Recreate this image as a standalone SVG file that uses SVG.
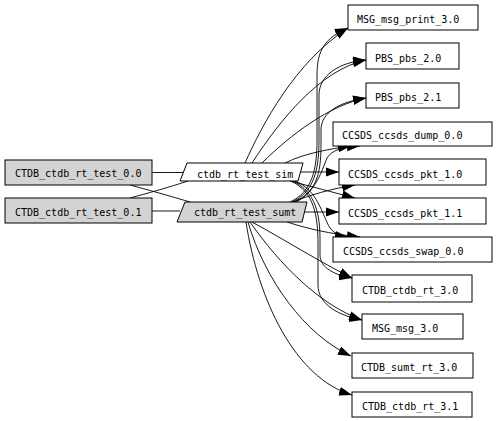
<svg xmlns="http://www.w3.org/2000/svg" width="498" height="421" viewBox="0 0 498 421">
<defs>
<marker id="ah" markerWidth="13" markerHeight="10" refX="13" refY="5" orient="auto" markerUnits="userSpaceOnUse">
<path d="M0,0.5 L13,5 L0,9.5 z" fill="#000"/>
</marker>
<style>
.box{fill:#fff;stroke:#000;stroke-width:1}
.grey{fill:#d3d3d3;stroke:#000;stroke-width:1}
.t{font-family:"DejaVu Sans Mono","Liberation Mono",monospace;font-size:10px;fill:#000}
.e{fill:none;stroke:#000;stroke-width:0.9}
.a{marker-end:url(#ah)}
</style>
</defs>
<rect width="498" height="421" fill="#fff"/>
<g id="connectors">
<path class="e" d="M152,172.5 L184,172.5"/>
<path class="e" d="M152,211 L180,211"/>
<path class="e" d="M130,185 C145,189 170,196 190,202"/>
<path class="e" d="M130,198 C145,194 170,187 188,181"/>
<path class="e a" d="M245,163 C262,125 295,62 348,28"/>
<path class="e a" d="M252,163 C280,120 320,70 366,60"/>
<path class="e a" d="M262,163 C290,135 330,105 366,98"/>
<path class="e a" d="M285,163 C305,153 330,149 351,146"/>
<path class="e a" d="M298,172 L339,172"/>
<path class="e a" d="M290,181 C310,186 335,193 355,198"/>
<path class="e a" d="M295,181 C318,190 322,215 330,228 C335,234 340,236 348,237"/>
<path class="e a" d="M293,181 C316,192 320,215 320,240 L320,255 C320,268 335,275 352,278"/>
<path class="e a" d="M291,181 C314,192 318,215 318,245 L318,285 C318,305 340,316 362,320"/>
<path class="e a" d="M290,202 C312,192 317,170 317,140 L317,75 C317,50 325,38 348,28"/>
<path class="e a" d="M292,202 C314,192 319,170 319,140 L319,95 C319,75 340,62 366,60"/>
<path class="e a" d="M294,202 C316,192 321,175 321,145 L321,130 C321,112 340,102 366,98"/>
<path class="e a" d="M296,202 C316,192 322,170 327,158 C332,150 342,147 360,146"/>
<path class="e a" d="M290,203 C310,195 330,189 355,185"/>
<path class="e a" d="M302,212 L339,212"/>
<path class="e a" d="M287,222 C305,228 330,234 360,237"/>
<path class="e a" d="M252,222 C285,240 320,262 352,278"/>
<path class="e a" d="M250,222 C280,265 320,305 362,320"/>
<path class="e a" d="M248,222 C265,280 305,335 351,356"/>
<path class="e a" d="M246,222 C258,300 295,378 352,395"/>
</g>
<g id="CTDB_ctdb_rt_test_0.0"><rect class="grey" x="5" y="160" width="147" height="25"/><text class="t" x="15" y="177">CTDB_ctdb_rt_test_0.0</text></g>
<g id="CTDB_ctdb_rt_test_0.1"><rect class="grey" x="5" y="198" width="147" height="25"/><text class="t" x="15" y="215.5">CTDB_ctdb_rt_test_0.1</text></g>
<g id="ctdb_rt_test_sim"><polygon class="box" points="187,163 303,163 298,181 180,181"/><text class="t" x="197" y="177.5">ctdb_rt_test_sim</text></g>
<g id="ctdb_rt_test_sumt"><polygon class="grey" points="185,202 307,202 302,222 177,222"/><text class="t" x="194" y="216">ctdb_rt_test_sumt</text></g>
<g id="MSG_msg_print_3.0"><rect class="box" x="348" y="5" width="130" height="25"/><text class="t" x="357" y="23">MSG_msg_print_3.0</text></g>
<g id="PBS_pbs_2.0"><rect class="box" x="366" y="43" width="93" height="26"/><text class="t" x="375" y="62">PBS_pbs_2.0</text></g>
<g id="PBS_pbs_2.1"><rect class="box" x="366" y="83" width="93" height="25"/><text class="t" x="375" y="101">PBS_pbs_2.1</text></g>
<g id="CCSDS_ccsds_dump_0.0"><rect class="box" x="333" y="122" width="159" height="24"/><text class="t" x="342" y="139">CCSDS_ccsds_dump_0.0</text></g>
<g id="CCSDS_ccsds_pkt_1.0"><rect class="box" x="339" y="159" width="147" height="26"/><text class="t" x="348" y="177.5">CCSDS_ccsds_pkt_1.0</text></g>
<g id="CCSDS_ccsds_pkt_1.1"><rect class="box" x="339" y="198" width="147" height="26"/><text class="t" x="348" y="216.5">CCSDS_ccsds_pkt_1.1</text></g>
<g id="CCSDS_ccsds_swap_0.0"><rect class="box" x="333" y="237" width="159" height="25"/><text class="t" x="343" y="255">CCSDS_ccsds_swap_0.0</text></g>
<g id="CTDB_ctdb_rt_3.0"><rect class="box" x="352" y="275" width="120" height="27"/><text class="t" x="362" y="294">CTDB_ctdb_rt_3.0</text></g>
<g id="MSG_msg_3.0"><rect class="box" x="362" y="314" width="101" height="25"/><text class="t" x="372" y="332">MSG_msg_3.0</text></g>
<g id="CTDB_sumt_rt_3.0"><rect class="box" x="352" y="353" width="121" height="25"/><text class="t" x="361" y="371">CTDB_sumt_rt_3.0</text></g>
<g id="CTDB_ctdb_rt_3.1"><rect class="box" x="352" y="392" width="120" height="25"/><text class="t" x="362" y="410">CTDB_ctdb_rt_3.1</text></g>
</svg>
